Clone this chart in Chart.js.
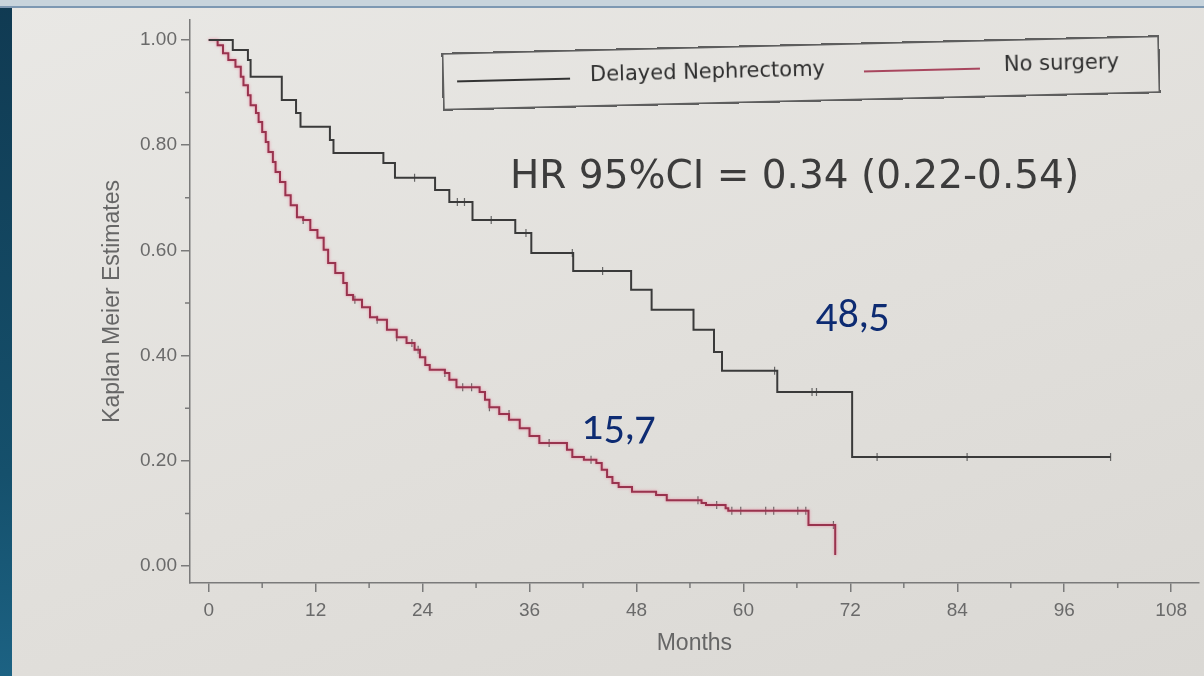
<!DOCTYPE html>
<html>
<head>
<meta charset="utf-8">
<script src="https://cdn.jsdelivr.net/npm/chart.js@4"></script>
<style>
  html, body { margin: 0; padding: 0; }
  body {
    width: 1204px; height: 676px; overflow: hidden; position: relative;
    background: linear-gradient(160deg, #e9e8e5 0%, #e1dfdb 55%, #dad8d4 100%);
  }
  #strip { position: absolute; left: 0; top: 0; width: 12px; height: 676px;
    background: linear-gradient(to bottom, #103a52, #15506c 70%, #1c6283); }
  #topbar { position: absolute; left: 0; top: 0; width: 1204px; height: 6px;
    background: #c8d4dc; border-bottom: 2px solid #7d98b2; }
  #wrap { position: absolute; left: 0; top: 0; width: 1204px; height: 676px; }
  #legend { position: absolute; left: 442px; top: 44px; width: 714px; height: 54px;
    border: 2px solid #5e5e5e; transform: rotate(-1.4deg); transform-origin: center;
    font-family: "DejaVu Sans", sans-serif; font-size: 21px; color: #2e2e2e; }
  #legend span.l { position: absolute; top: 26px; height: 0; border-top: 2px solid #333; }
  #legend span.t { position: absolute; top: 13px; line-height: 1; }
  .note { position: absolute; line-height: 1; white-space: nowrap; }
  #hr { left: 510px; top: 155px; font-family: "DejaVu Sans", sans-serif; font-size: 39px; color: #3c3c3c; }
  .med { font-family: Lato, "Noto Sans", sans-serif; font-size: 40px; color: #0d2b72;
    font-variant-numeric: oldstyle-nums; }
</style>
</head>
<body>
<div id="wrap"><canvas id="km" width="1204" height="676"></canvas></div>
<div id="strip"></div>
<div id="topbar"></div>
<div id="legend">
  <span class="l" style="left:13px;width:113px;border-color:#333;"></span>
  <span class="t" style="left:146px;">Delayed Nephrectomy</span>
  <span class="l" style="left:420px;width:116px;border-color:#a8465e;"></span>
  <span class="t" style="left:560px;">No surgery</span>
</div>
<div id="hr" class="note">HR 95%CI = 0.34 (0.22-0.54)</div>
<div class="note med" style="left:816px;top:292px;">48,5</div>
<div class="note med" style="left:582px;top:404px;">15,7</div>
<script>
// Kaplan-Meier curves (months, survival estimate)
const delayedMonths = [0, 2.7, 4.4, 4.7, 8.2, 9.8, 10.3, 13.6, 14.0, 19.6, 20.9, 25.4, 27.0, 29.6,
  34.4, 36.2, 40.9, 47.4, 49.7, 54.4, 56.7, 57.6, 63.8, 72.2, 101.2];
const delayedSurv = [1.0, 0.981, 0.962, 0.930, 0.886, 0.861, 0.835, 0.810, 0.785, 0.766, 0.738, 0.715, 0.692, 0.658,
  0.633, 0.595, 0.561, 0.525, 0.487, 0.449, 0.407, 0.371, 0.331, 0.207, 0.207];
const delayedCensorMonths = [23.1, 27.9, 28.7, 31.7, 35.6, 40.8, 44.2, 63.5, 67.7, 68.2, 75.0, 85.1, 101.2];
const delayedCensorSurv = [0.738, 0.692, 0.692, 0.658, 0.633, 0.595, 0.561, 0.371, 0.331, 0.331, 0.207, 0.207, 0.207];

const noSurgMonths = [0, 1.0, 1.6, 2.2, 3.0, 3.6, 3.9, 4.4, 4.7, 5.3, 5.6, 6.0, 6.4, 6.7, 7.2, 7.5, 8.0, 8.6, 9.2, 9.9,
  10.6, 11.4, 12.2, 12.9, 13.4, 14.2, 15.1, 15.5, 16.2, 17.2, 18.1, 18.9, 20.0, 21.1, 22.2, 23.1, 23.7,
  24.3, 24.8, 26.5, 27.0, 27.8, 30.4, 31.0, 31.5, 32.6, 33.7, 34.9, 36.0, 37.1,
  40.2, 40.8, 42.1, 43.5, 44.1, 44.7, 45.3, 46.0, 47.5, 50.2, 51.4, 55.3, 55.8, 58.0, 58.3, 67.3, 70.3];
const noSurgSurv = [1.0, 0.990, 0.975, 0.962, 0.949, 0.930, 0.914, 0.895, 0.876, 0.861, 0.844, 0.825, 0.806, 0.787, 0.768, 0.749, 0.730, 0.705, 0.686, 0.663,
  0.658, 0.639, 0.624, 0.601, 0.576, 0.557, 0.538, 0.515, 0.506, 0.492, 0.473, 0.468, 0.449, 0.435, 0.424, 0.411, 0.397,
  0.382, 0.373, 0.367, 0.354, 0.340, 0.331, 0.316, 0.302, 0.289, 0.278, 0.262, 0.247, 0.234,
  0.221, 0.207, 0.202, 0.196, 0.183, 0.169, 0.158, 0.150, 0.141, 0.135, 0.125, 0.120, 0.116, 0.110, 0.105, 0.078, 0.021];
const noSurgCensorMonths = [10.6, 16.4, 18.9, 21.1, 22.8, 23.5, 26.5, 28.5, 29.5, 31.5, 33.7, 38.2, 42.9,
  54.9, 57.0, 58.7, 59.7, 62.5, 63.4, 66.1, 67.0, 70.1];
const noSurgCensorSurv = [0.658, 0.506, 0.468, 0.435, 0.424, 0.411, 0.367, 0.340, 0.340, 0.302, 0.289, 0.234, 0.202,
  0.125, 0.116, 0.105, 0.105, 0.105, 0.105, 0.105, 0.105, 0.078];

const monthTicks = [0, 12, 24, 36, 48, 60, 72, 84, 96, 108];
const monthMinorTicks = [6, 18, 30, 42, 54, 66, 78, 90, 102];
const survTicks = [0, 0.2, 0.4, 0.6, 0.8, 1.0];
const survMinorTicks = [0.1, 0.3, 0.5, 0.7, 0.9];

const pts = (xs, ys) => xs.map((x, i) => ({ x: x, y: ys[i] }));
const axisColor = '#7a7a7a';

// short ticks between the labelled ones
const minorTicks = {
  id: 'minorTicks',
  afterDraw(chart) {
    const { ctx, scales: { x, y } } = chart;
    ctx.save();
    ctx.strokeStyle = axisColor;
    ctx.lineWidth = 1.5;
    ctx.beginPath();
    survMinorTicks.forEach(v => {
      const py = y.getPixelForValue(v);
      ctx.moveTo(x.left - 5, py); ctx.lineTo(x.left, py);
    });
    monthMinorTicks.forEach(v => {
      const px = x.getPixelForValue(v);
      ctx.moveTo(px, y.bottom); ctx.lineTo(px, y.bottom + 5);
    });
    ctx.stroke();
    ctx.restore();
  }
};

// pinkish glow round the red curve, like the projected slide
const redGlow = {
  id: 'redGlow',
  beforeDatasetDraw(chart, args) {
    if (args.index !== 1) return;
    chart.ctx.save();
    chart.ctx.shadowColor = 'rgba(235,120,150,0.8)';
    chart.ctx.shadowBlur = 3;
  },
  afterDatasetDraw(chart, args) {
    if (args.index === 1) chart.ctx.restore();
  }
};

const censorStyle = {
  showLine: false, pointStyle: 'line', rotation: 90, pointRadius: 4,
  borderColor: '#666', borderWidth: 1.2
};

new Chart(document.getElementById('km'), {
  type: 'scatter',
  data: {
    datasets: [
      { label: 'Delayed Nephrectomy', data: pts(delayedMonths, delayedSurv), showLine: true,
        stepped: 'before', pointRadius: 0, borderColor: '#3a3a3a', borderWidth: 2 },
      { label: 'No surgery', data: pts(noSurgMonths, noSurgSurv), showLine: true,
        stepped: 'before', pointRadius: 0, borderColor: '#99334e', borderWidth: 2 },
      Object.assign({ label: 'Delayed censored', data: pts(delayedCensorMonths, delayedCensorSurv) }, censorStyle),
      Object.assign({ label: 'No surgery censored', data: pts(noSurgCensorMonths, noSurgCensorSurv) }, censorStyle)
    ]
  },
  options: {
    responsive: false,
    animation: false,
    layout: { padding: { left: 0, right: 0, top: 20, bottom: 0 } },
    plugins: { legend: { display: false }, tooltip: { enabled: false } },
    scales: {
      x: {
        type: 'linear', min: -2.1, max: 111.1,
        afterBuildTicks: s => { s.ticks = monthTicks.map(v => ({ value: v })); },
        afterFit: s => { s.height = 93; },
        grid: { drawOnChartArea: false, tickLength: 9, color: axisColor, lineWidth: 1.5 },
        border: { color: axisColor, width: 1.5 },
        ticks: { color: '#6a6a6a', padding: 7, maxRotation: 0,
          font: { family: 'Liberation Sans, Arial, sans-serif', size: 19 } },
        title: { display: true, text: 'Months', color: '#666',
          font: { family: 'Liberation Sans, Arial, sans-serif', size: 23 },
          padding: { top: 0, bottom: 19 } }
      },
      y: {
        min: -0.0323, max: 1.038,
        afterBuildTicks: s => { s.ticks = survTicks.map(v => ({ value: v })); },
        afterFit: s => { s.width = 190; },
        grid: { drawOnChartArea: false, tickLength: 9, color: axisColor, lineWidth: 1.5 },
        border: { color: axisColor, width: 1.5 },
        ticks: { color: '#6a6a6a', padding: 4, callback: v => Number(v).toFixed(2),
          font: { family: 'Liberation Sans, Arial, sans-serif', size: 19 } },
        title: { display: true, text: 'Kaplan Meier Estimates', color: '#666',
          font: { family: 'Liberation Sans, Arial, sans-serif', size: 23 },
          padding: { top: 99, bottom: 0 } }
      }
    }
  },
  plugins: [minorTicks, redGlow]
});
</script>
</body>
</html>
